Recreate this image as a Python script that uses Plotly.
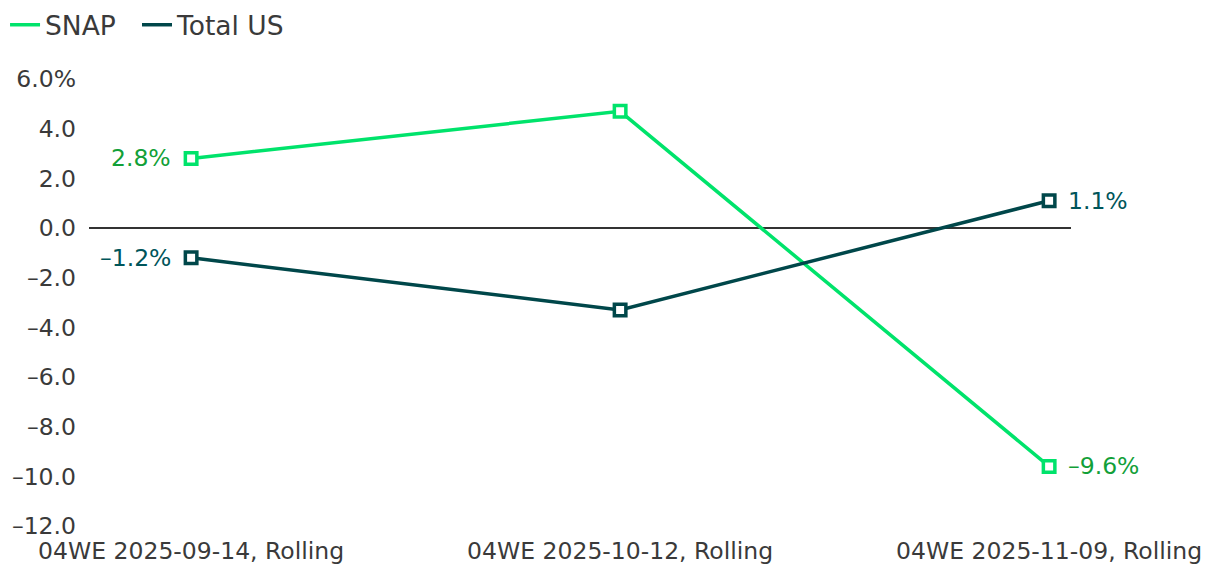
import plotly.graph_objects as go

categories = ["04WE 2025-09-14, Rolling", "04WE 2025-10-12, Rolling", "04WE 2025-11-09, Rolling"]
snap = [2.8, 4.7, -9.6]
total_us = [-1.2, -3.3, 1.1]
y_ticks = [6, 4, 2, 0, -2, -4, -6, -8, -10, -12]
y_ticktext = ["6.0%", "4.0", "2.0", "0.0", "\u20132.0", "\u20134.0", "\u20136.0", "\u20138.0", "\u201310.0", "\u201312.0"]

FONT = "DejaVu Sans"
FS = 23.5
LEG_FS = 26.5
SNAP_C = "#00E36B"
TOT_C = "#00474A"
SNAP_LBL = "#12A038"
TOT_LBL = "#00555A"
TXT = "#3a3a3a"

x = list(range(len(categories)))


def fmt(v):
    s = f"{abs(v):.1f}%"
    return ("\u2013" + s) if v < 0 else s


fig = go.Figure()
for name, vals, col in [("SNAP", snap, SNAP_C), ("Total US", total_us, TOT_C)]:
    fig.add_trace(go.Scatter(
        x=x, y=vals, name=name, mode="lines+markers", showlegend=False, cliponaxis=False,
        line=dict(color=col, width=3.5),
        marker=dict(symbol="square", size=11.5, color="white", line=dict(color=col, width=3.5)),
    ))
for name, col, leg in [("SNAP", SNAP_C, "legend"), ("Total US", TOT_C, "legend2")]:
    fig.add_trace(go.Scatter(
        x=[None], y=[None], name=name, mode="lines", showlegend=True, legend=leg,
        line=dict(color=col, width=3.5),
    ))

annotations = []
for vals, col in [(snap, SNAP_LBL), (total_us, TOT_LBL)]:
    annotations.append(dict(x=x[0], y=vals[0], text=fmt(vals[0]), xref="x", yref="y",
                            xanchor="right", yanchor="middle", xshift=-18, showarrow=False,
                            font=dict(family=FONT, size=FS, color=col)))
    annotations.append(dict(x=x[-1], y=vals[-1], text=fmt(vals[-1]), xref="x", yref="y",
                            xanchor="left", yanchor="middle", xshift=17, showarrow=False,
                            font=dict(family=FONT, size=FS, color=col)))

leg_common = dict(orientation="h", xanchor="left", y=1.1208, yanchor="middle",
                  font=dict(family=FONT, size=LEG_FS, color=TXT),
                  itemwidth=30, tracegroupgap=0, bgcolor="rgba(0,0,0,0)")

fig.update_layout(
    width=1212, height=556,
    margin=dict(l=81, r=149, t=71, b=38, autoexpand=False),
    paper_bgcolor="white", plot_bgcolor="white",
    font=dict(family=FONT, size=FS, color=TXT),
    showlegend=True,
    legend=dict(x=-0.0855, **leg_common),
    legend2=dict(x=0.0489, **leg_common),
    annotations=annotations,
    xaxis=dict(tickmode="array", tickvals=x, ticktext=categories,
               range=[-0.238, 2.051], showgrid=False, zeroline=False, showline=False,
               ticks="", tickfont=dict(family=FONT, size=FS, color=TXT), ticklabelstandoff=8),
    yaxis=dict(tickmode="array", tickvals=y_ticks, ticktext=y_ticktext,
               range=[-12, 6], showgrid=False, zeroline=True, zerolinecolor="#333333",
               zerolinewidth=1.5, showline=False, ticks="",
               tickfont=dict(family=FONT, size=FS, color=TXT), ticklabelstandoff=12),
)

fig.write_html("out.html")
